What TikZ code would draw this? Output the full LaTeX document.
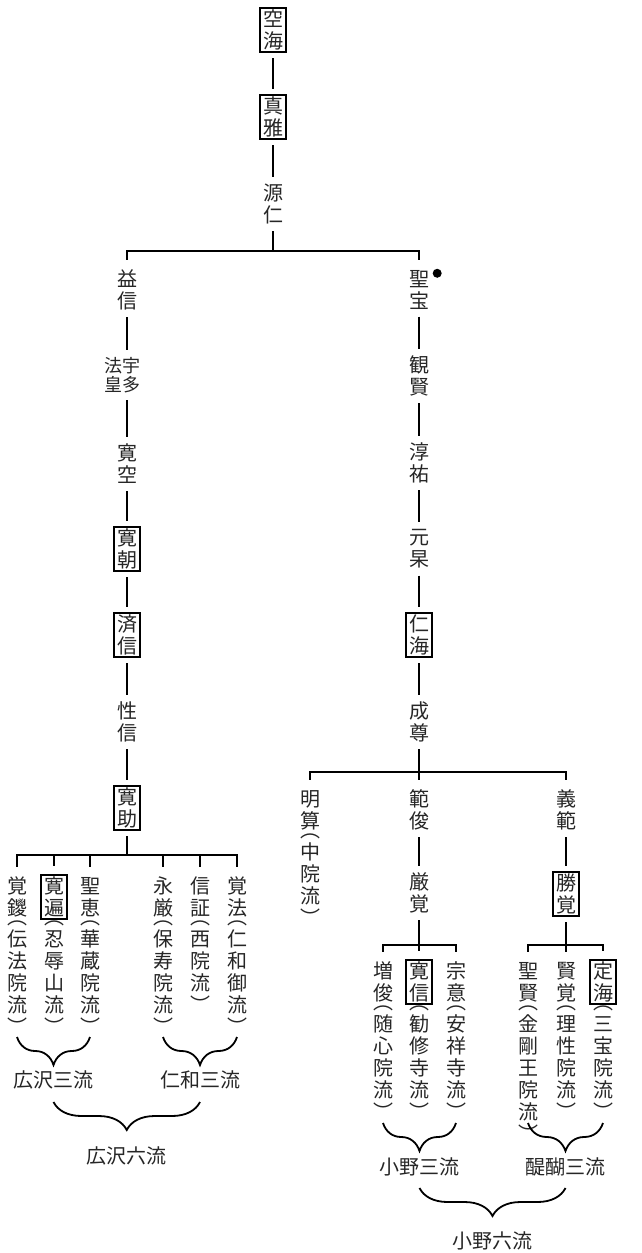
\documentclass[tikz,border=0pt]{standalone}
\usepackage{fontspec}
\setmainfont{Noto Sans CJK JP}
\usetikzlibrary{positioning, decorations.pathreplacing}

% Klammern fuer die senkrechten Schulnamen
\newcommand\kL{\raisebox{7pt}[0pt][0pt]{︵}}
\newcommand\kR{\raisebox{-8pt}[0pt][0pt]{︶}}

\begin{document}
\begin{tikzpicture}[
    x=1pt, y=-1pt,
    every node/.style={text=black!85},
    monk/.style={align=center, inner xsep=3pt, inner ysep=2pt, font=\fontsize{20pt}{22pt}\selectfont},
    boxed/.style={monk, draw=black, line width=1.8pt},
    school/.style={anchor=north, inner sep=0pt, align=center, font=\fontsize{20pt}{22pt}\selectfont},
    ryuha/.style={font=\fontsize{20pt}{22pt}\selectfont},
    link/.style={line width=2.6pt, shorten <=5pt, shorten >=5pt},
    stem/.style={line width=2.6pt, shorten <=5pt},
    drop/.style={line width=2.6pt, shorten >=8pt},
    kakko/.style={decorate, decoration={brace, mirror, amplitude=28pt}, line width=1.8pt},
    hoshi/.style={circle, fill=black, inner sep=0pt, minimum size=9pt}
]
    \useasboundingbox (0,0) rectangle (641,1253);

    % Stamm oben
    \node[boxed] (kukai) at (273,30) {空\\海};
    \node[boxed] (shinga) at (273,117) {真\\雅};
    \node[monk] (genjin) at (273,204) {源\\仁};
    \coordinate (j1) at (273,251);

    % Linker Zweig
    \node[monk] (yakushin) at (127,290) {益\\信};
    \node[monk, font=\fontsize{18pt}{19pt}\selectfont] (udaho) at (122,375) {法宇\\皇多};
    \node[monk] (kanku) at (127,464) {寛\\空};
    \node[boxed] (kancho) at (127,549) {寛\\朝};
    \node[boxed] (saishin) at (127,635) {済\\信};
    \node[monk] (shoshin) at (127,722) {性\\信};
    \node[boxed] (kanjo) at (127,808) {寛\\助};
    \coordinate (j2) at (127,855);

    % Rechter Zweig
    \node[monk] (shobo) at (419,290) {聖\\宝};
    \node[hoshi] (shobodot) at ([xshift=5pt,yshift=-5pt]shobo.north east) {};
    \node[monk] (kangen) at (419,376) {観\\賢};
    \node[monk] (shunnyu) at (419,463) {淳\\祐};
    \node[monk] (genko) at (419,549) {元\\杲};
    \node[boxed] (ningai) at (419,635) {仁\\海};
    \node[monk] (seison) at (419,722) {成\\尊};
    \coordinate (j3) at (419,772);

    % Schueler von Kanjo
    \node[monk] (kakuban) at (17,897) {覚\\鑁};
    \node[school] (kakubanr) at ([yshift=-34pt]kakuban.center) {\kL\\[-7pt]伝\\法\\院\\流\\[-8pt]\kR};
    \node[boxed] (kanpen) at (54,897) {寛\\遍};
    \node[school] (kanpenr) at ([yshift=-34pt]kanpen.center) {\kL\\[-7pt]忍\\辱\\山\\流\\[-8pt]\kR};
    \node[monk] (shoe) at (90,897) {聖\\恵};
    \node[school] (shoer) at ([yshift=-34pt]shoe.center) {\kL\\[-7pt]華\\蔵\\院\\流\\[-8pt]\kR};
    \node[monk] (eigon) at (163,897) {永\\厳};
    \node[school] (eigonr) at ([yshift=-34pt]eigon.center) {\kL\\[-7pt]保\\寿\\院\\流\\[-8pt]\kR};
    \node[monk] (shinsho) at (200,897) {信\\証};
    \node[school] (shinshor) at ([yshift=-34pt]shinsho.center) {\kL\\[-7pt]西\\院\\流\\[-8pt]\kR};
    \node[monk] (kakuho) at (237,897) {覚\\法};
    \node[school] (kakuhor) at ([yshift=-34pt]kakuho.center) {\kL\\[-7pt]仁\\和\\御\\流\\[-8pt]\kR};

    % Schueler von Seison
    \node[monk] (meisan) at (310,810) {明\\算};
    \node[school] (meisanr) at ([yshift=-34pt]meisan.center) {\kL\\[-7pt]中\\院\\流\\[-8pt]\kR};
    \node[monk] (hanjun) at (419,810) {範\\俊};
    \node[monk] (gonkaku) at (419,893) {厳\\覚};
    \coordinate (j4) at (419,945);
    \node[monk] (gihan) at (566,810) {義\\範};
    \node[boxed] (shokaku) at (566,894) {勝\\覚};
    \coordinate (j5) at (566,945);

    % Ono-Linien
    \node[monk] (zoshun) at (383,982) {増\\俊};
    \node[school] (zoshunr) at ([yshift=-34pt]zoshun.center) {\kL\\[-7pt]随\\心\\院\\流\\[-8pt]\kR};
    \node[boxed] (kanshin) at (419,982) {寛\\信};
    \node[school] (kanshinr) at ([yshift=-34pt]kanshin.center) {\kL\\[-7pt]勧\\修\\寺\\流\\[-8pt]\kR};
    \node[monk] (soi) at (456,982) {宗\\意};
    \node[school] (soir) at ([yshift=-34pt]soi.center) {\kL\\[-7pt]安\\祥\\寺\\流\\[-8pt]\kR};

    % Daigo-Linien
    \node[monk] (shoken) at (528,982) {聖\\賢};
    \node[school] (shokenr) at ([yshift=-34pt]shoken.center) {\kL\\[-7pt]金\\剛\\王\\院\\流\\[-8pt]\kR};
    \node[monk] (kenkaku) at (566,982) {賢\\覚};
    \node[school] (kenkakur) at ([yshift=-34pt]kenkaku.center) {\kL\\[-7pt]理\\性\\院\\流\\[-8pt]\kR};
    \node[boxed] (jokai) at (603,982) {定\\海};
    \node[school] (jokair) at ([yshift=-34pt]jokai.center) {\kL\\[-7pt]三\\宝\\院\\流\\[-8pt]\kR};

    % Verbindungen Stamm
    \draw[link] (kukai) -- (shinga);
    \draw[link] (shinga) -- (genjin);
    \draw[stem] (genjin) -- (j1);
    \draw[drop] (j1) -| (yakushin);
    \draw[drop] (j1) -| (shobo);

    % Verbindungen links
    \draw[link] (yakushin) -- (yakushin |- udaho.north);
    \draw[link] (udaho.south -| kanku) -- (kanku);
    \draw[link] (kanku) -- (kancho);
    \draw[link] (kancho) -- (saishin);
    \draw[link] (saishin) -- (shoshin);
    \draw[link] (shoshin) -- (kanjo);
    \draw[stem] (kanjo) -- (j2);
    \draw[drop] (j2) -| (kakuban);
    \draw[drop] (j2) -| (kanpen);
    \draw[drop] (j2) -| (shoe);
    \draw[drop] (j2) -| (eigon);
    \draw[drop] (j2) -| (shinsho);
    \draw[drop] (j2) -| (kakuho);

    % Verbindungen rechts
    \draw[link] (shobo) -- (kangen);
    \draw[link] (kangen) -- (shunnyu);
    \draw[link] (shunnyu) -- (genko);
    \draw[link] (genko) -- (ningai);
    \draw[link] (ningai) -- (seison);
    \draw[stem] (seison) -- (j3);
    \draw[drop] (j3) -| (meisan);
    \draw[drop] (j3) -| (hanjun);
    \draw[drop] (j3) -| (gihan);
    \draw[link] (hanjun) -- (gonkaku);
    \draw[link] (gihan) -- (shokaku);
    \draw[stem] (gonkaku) -- (j4);
    \draw[drop] (j4) -| (zoshun);
    \draw[drop] (j4) -| (kanshin);
    \draw[drop] (j4) -| (soi);
    \draw[stem] (shokaku) -- (j5);
    \draw[drop] (j5) -| (shoken);
    \draw[drop] (j5) -| (kenkaku);
    \draw[drop] (j5) -| (jokai);

    % Klammern Hirosawa
    \coordinate (hb3) at (0,1037);
    \coordinate (hb6) at (0,1102);
    \draw[kakko] (kakuban |- hb3) -- node[ryuha, midway, yshift=-43pt] (hirosawa3) {広沢三流} (shoe |- hb3);
    \draw[kakko] (eigon |- hb3) -- node[ryuha, midway, yshift=-43pt] (ninna3) {仁和三流} (kakuho |- hb3);
    \draw[kakko] (hirosawa3 |- hb6) -- node[ryuha, midway, yshift=-54pt] (hirosawa6) {広沢六流} (ninna3 |- hb6);

    % Klammern Ono
    \coordinate (ob3) at (0,1123);
    \coordinate (ob6) at (0,1188);
    \draw[kakko] (zoshun |- ob3) -- node[ryuha, midway, yshift=-44pt] (ono3) {小野三流} (soi |- ob3);
    \draw[kakko] (shoken |- ob3) -- node[ryuha, midway, yshift=-44pt] (daigo3) {醍醐三流} (jokai |- ob3);
    \draw[kakko] (ono3 |- ob6) -- node[ryuha, midway, yshift=-53pt] (ono6) {小野六流} (daigo3 |- ob6);
\end{tikzpicture}
\end{document}
